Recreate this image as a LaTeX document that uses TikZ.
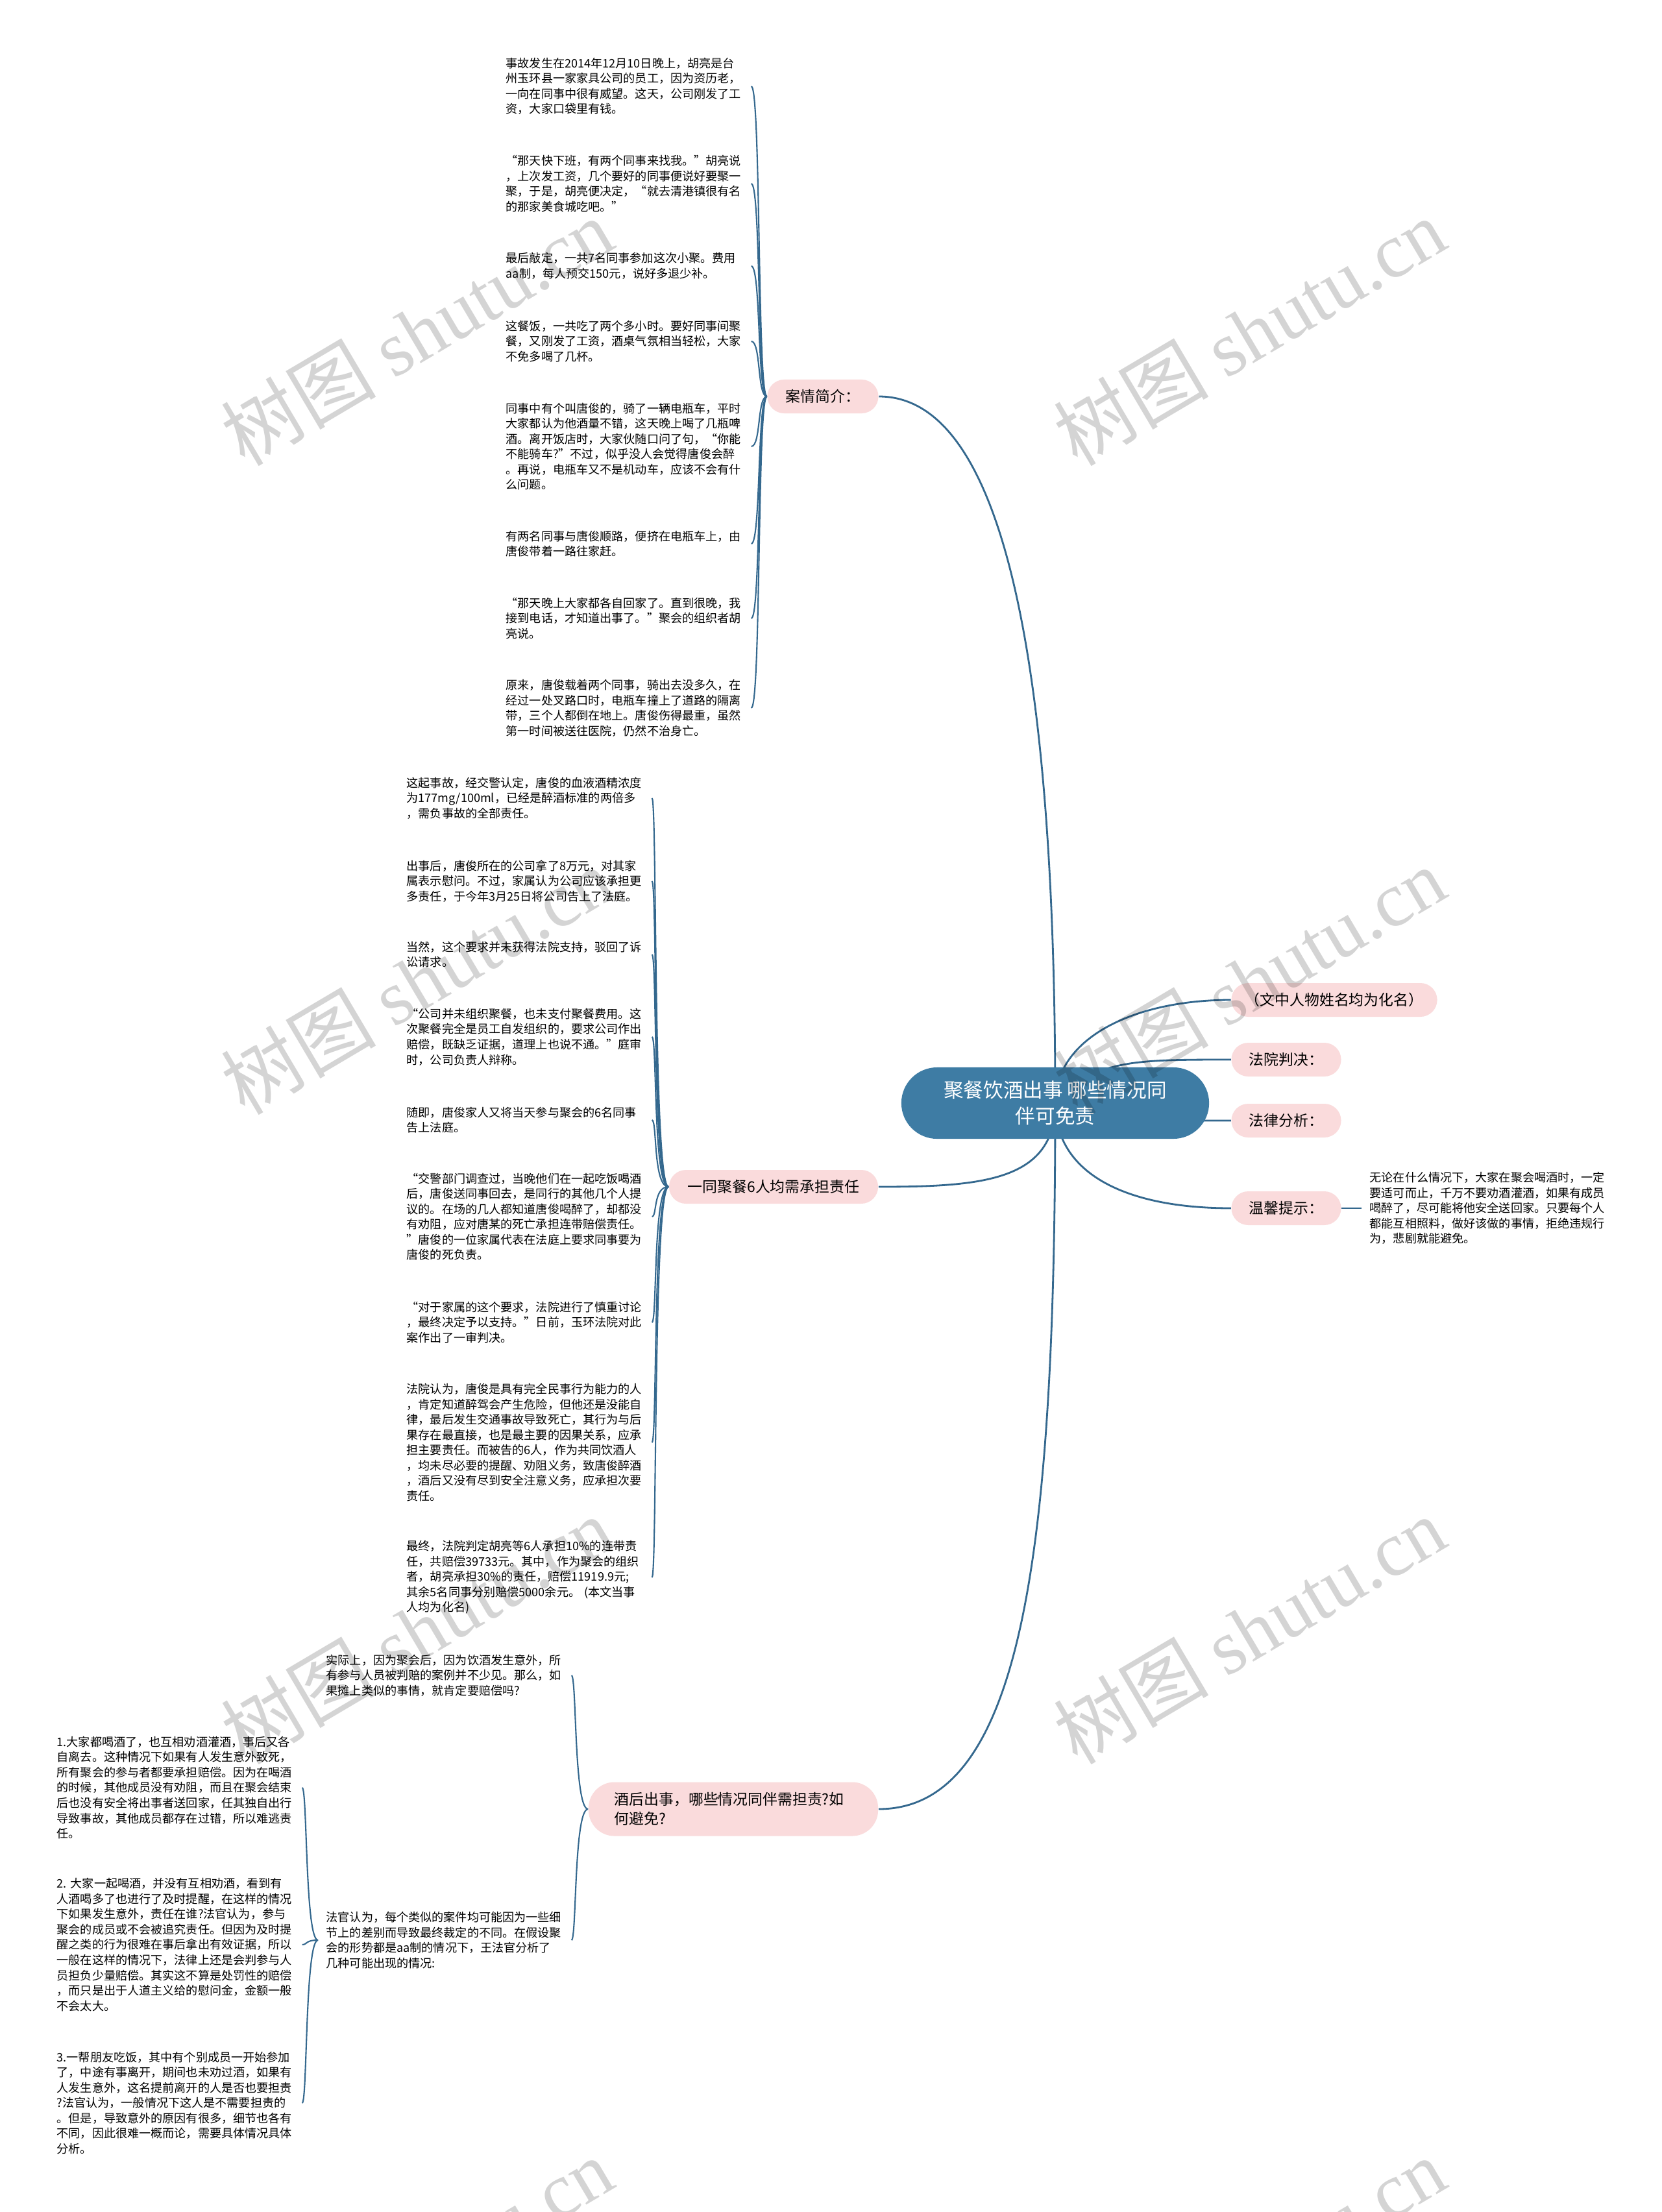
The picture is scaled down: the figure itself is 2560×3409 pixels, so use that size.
\documentclass[tikz,border=0pt]{standalone}
\usepackage{fontspec}
\setmainfont{Noto Sans CJK SC}
\newfontfamily\wmfont{Liberation Serif}
\usetikzlibrary{backgrounds}
\definecolor{hubblue}{RGB}{62,124,164}
\definecolor{linkblue}{RGB}{52,104,142}
\definecolor{tagpink}{RGB}{250,219,220}

\begin{document}
\begin{tikzpicture}[x=0.01cm,y=-0.01cm,
  hub/.style={fill=hubblue,text=white,rounded corners=0.55cm,minimum width=4.74cm,minimum height=1.1cm,align=center,font=\fontsize{8.7pt}{11.4pt}\selectfont},
  tag/.style={fill=tagpink,rounded corners=0.26cm,minimum height=0.52cm,align=center,inner xsep=0.2cm,font=\fontsize{6.5pt}{8.5pt}\selectfont},
  leaf/.style={anchor=west,text width=3.65cm,align=left,inner xsep=0.12cm,inner ysep=0pt,font=\fontsize{5.15pt}{6.69pt}\selectfont},
  stem/.style={draw=linkblue,line width=0.8pt},
  twig/.style={draw=linkblue,line width=0.6pt},
  wm/.style={rotate=30.6,text=black,opacity=0.17,font=\fontsize{34pt}{34pt}\selectfont}]
\useasboundingbox (0,0) rectangle (2560,3409);
\node[hub] (hub) at (1626,1700) {聚餐饮酒出事 哪些情况同\\伴可免责};
\node[tag,minimum width=1.71cm] (case) at (1268,611) {案情简介：};
\node[tag,minimum width=3.22cm] (six) at (1192,1829) {一同聚餐6人均需承担责任};
\node[tag,align=left,text width=3.66cm,inner xsep=0.4cm,minimum height=0.83cm,rounded corners=0.4cm] (after) at (1130,2788) {酒后出事，哪些情况同伴需担责?如\\何避免?};
\node[tag,minimum width=3.17cm] (alias) at (2056,1541) {（文中人物姓名均为化名）};
\node[tag,minimum width=1.69cm] (court) at (1982,1633) {法院判决：};
\node[tag,minimum width=1.69cm] (law) at (1982,1727) {法律分析：};
\node[tag,minimum width=1.69cm] (tip) at (1982,1862) {温馨提示：};
\node[leaf] (warm) at (2098,1862) {无论在什么情况下，大家在聚会喝酒时，一定\\要适可而止，千万不要劝酒灌酒，如果有成员\\喝醉了，尽可能将他安全送回家。只要每个人\\都能互相照料，做好该做的事情，拒绝违规行\\为，悲剧就能避免。};

\node[leaf] (a1) at (767,133) {事故发生在2014年12月10日晚上，胡亮是台\\州玉环县一家家具公司的员工，因为资历老，\\一向在同事中很有威望。这天，公司刚发了工\\资，大家口袋里有钱。};
\node[leaf] (a2) at (767,283) {“那天快下班，有两个同事来找我。”胡亮说\\，上次发工资，几个要好的同事便说好要聚一\\聚，于是，胡亮便决定，“就去清港镇很有名\\的那家美食城吃吧。”};
\node[leaf] (a3) at (767,410) {最后敲定，一共7名同事参加这次小聚。费用\\aa制，每人预交150元，说好多退少补。};
\node[leaf] (a4) at (767,526) {这餐饭，一共吃了两个多小时。要好同事间聚\\餐，又刚发了工资，酒桌气氛相当轻松，大家\\不免多喝了几杯。};
\node[leaf] (a5) at (767,688) {同事中有个叫唐俊的，骑了一辆电瓶车，平时\\大家都认为他酒量不错，这天晚上喝了几瓶啤\\酒。离开饭店时，大家伙随口问了句，“你能\\不能骑车?”不过，似乎没人会觉得唐俊会醉\\。再说，电瓶车又不是机动车，应该不会有什\\么问题。};
\node[leaf] (a6) at (767,838) {有两名同事与唐俊顺路，便挤在电瓶车上，由\\唐俊带着一路往家赶。};
\node[leaf] (a7) at (767,953) {“那天晚上大家都各自回家了。直到很晚，我\\接到电话，才知道出事了。”聚会的组织者胡\\亮说。};
\node[leaf] (a8) at (767,1091) {原来，唐俊载着两个同事，骑出去没多久，在\\经过一处叉路口时，电瓶车撞上了道路的隔离\\带，三个人都倒在地上。唐俊伤得最重，虽然\\第一时间被送往医院，仍然不治身亡。};

\node[leaf] (b1) at (614,1230) {这起事故，经交警认定，唐俊的血液酒精浓度\\为177mg/100ml，已经是醉酒标准的两倍多\\，需负事故的全部责任。};
\node[leaf] (b2) at (614,1358) {出事后，唐俊所在的公司拿了8万元，对其家\\属表示慰问。不过，家属认为公司应该承担更\\多责任，于今年3月25日将公司告上了法庭。};
\node[leaf] (b3) at (614,1471) {当然，这个要求并未获得法院支持，驳回了诉\\讼请求。};
\node[leaf] (b4) at (614,1598) {“公司并未组织聚餐，也未支付聚餐费用。这\\次聚餐完全是员工自发组织的，要求公司作出\\赔偿，既缺乏证据，道理上也说不通。”庭审\\时，公司负责人辩称。};
\node[leaf] (b5) at (614,1726) {随即，唐俊家人又将当天参与聚会的6名同事\\告上法庭。};
\node[leaf] (b6) at (614,1875) {“交警部门调查过，当晚他们在一起吃饭喝酒\\后，唐俊送同事回去，是同行的其他几个人提\\议的。在场的几人都知道唐俊喝醉了，却都没\\有劝阻，应对唐某的死亡承担连带赔偿责任。\\”唐俊的一位家属代表在法庭上要求同事要为\\唐俊的死负责。};
\node[leaf] (b7) at (614,2038) {“对于家属的这个要求，法院进行了慎重讨论\\，最终决定予以支持。”日前，玉环法院对此\\案作出了一审判决。};
\node[leaf] (b8) at (614,2223) {法院认为，唐俊是具有完全民事行为能力的人\\，肯定知道醉驾会产生危险，但他还是没能自\\律，最后发生交通事故导致死亡，其行为与后\\果存在最直接，也是最主要的因果关系，应承\\担主要责任。而被告的6人，作为共同饮酒人\\，均未尽必要的提醒、劝阻义务，致唐俊醉酒\\，酒后又没有尽到安全注意义务，应承担次要\\责任。};
\node[leaf] (b9) at (614,2431) {最终，法院判定胡亮等6人承担10\%的连带责\\任，共赔偿39733元。其中，作为聚会的组织\\者，胡亮承担30\%的责任，赔偿11919.9元;\\其余5名同事分别赔偿5000余元。~(本文当事\\人均为化名)};

\node[leaf] (c1) at (490,2582) {实际上，因为聚会后，因为饮酒发生意外，所\\有参与人员被判赔的案例并不少见。那么，如\\果摊上类似的事情，就肯定要赔偿吗?};
\node[leaf] (c2) at (490,2990) {法官认为，每个类似的案件均可能因为一些细\\节上的差别而导致最终裁定的不同。在假设聚\\会的形势都是aa制的情况下，王法官分析了\\几种可能出现的情况:};

\node[leaf] (d1) at (75,2755) {1.大家都喝酒了，也互相劝酒灌酒，事后又各\\自离去。这种情况下如果有人发生意外致死，\\所有聚会的参与者都要承担赔偿。因为在喝酒\\的时候，其他成员没有劝阻，而且在聚会结束\\后也没有安全将出事者送回家，任其独自出行\\导致事故，其他成员都存在过错，所以难逃责\\任。};
\node[leaf] (d2) at (75,2997) {2.~大家一起喝酒，并没有互相劝酒，看到有\\人酒喝多了也进行了及时提醒，在这样的情况\\下如果发生意外，责任在谁?法官认为，参与\\聚会的成员或不会被追究责任。但因为及时提\\醒之类的行为很难在事后拿出有效证据，所以\\一般在这样的情况下，法律上还是会判参与人\\员担负少量赔偿。其实这不算是处罚性的赔偿\\，而只是出于人道主义给的慰问金，金额一般\\不会太大。};
\node[leaf] (d3) at (75,3241) {3.一帮朋友吃饭，其中有个别成员一开始参加\\了，中途有事离开，期间也未劝过酒，如果有\\人发生意外，这名提前离开的人是否也要担责\\?法官认为，一般情况下这人是不需要担责的\\。但是，导致意外的原因有很多，细节也各有\\不同，因此很难一概而论，需要具体情况具体\\分析。};

\begin{scope}[on background layer]
\fill[white] (0,0) rectangle (2560,3409);
\draw[stem] (hub.center) .. controls +(0,-600) and +(210,0) .. (case.east);
\draw[stem] (hub.center) .. controls +(0,120) and +(160,0) .. (six.east);
\draw[stem] (hub.center) .. controls +(0,700) and +(220,0) .. (after.east);
\draw[stem] (hub.center) .. controls +(0,-100) and +(-150,0) .. (alias.west);
\draw[stem] (hub.center) .. controls +(60,-67) and +(-150,0) .. (court.west);
\draw[stem] (hub.center) .. controls +(100,27) and +(-100,0) .. (law.west);
\draw[stem] (hub.center) .. controls +(0,110) and +(-160,0) .. (tip.west);
\draw[twig] (tip.east) -- (warm.west);
\foreach \i in {1,...,8} \draw[twig] (case.west) .. controls +(-15,0) and +(15,0) .. (a\i.east);
\foreach \i in {1,...,9} \draw[twig] (six.west) .. controls +(-24,0) and +(8,0) .. (b\i.east);
\foreach \i in {1,2} \draw[twig] (after.west) .. controls +(-22,0) and +(8,0) .. (c\i.east);
\foreach \i in {1,2,3} \draw[twig] (c2.west) .. controls +(-20,0) and +(8,0) .. (d\i.east);
\end{scope}

\begin{scope}
\clip (0,0) rectangle (2560,3409);
\foreach \wx in {642,1925} \foreach \wy in {511,1511,2512,3500} \node[wm] (mark\wx\wy) at (\wx,\wy) {树图 {\wmfont shutu.cn}};
\end{scope}
\end{tikzpicture}
\end{document}
